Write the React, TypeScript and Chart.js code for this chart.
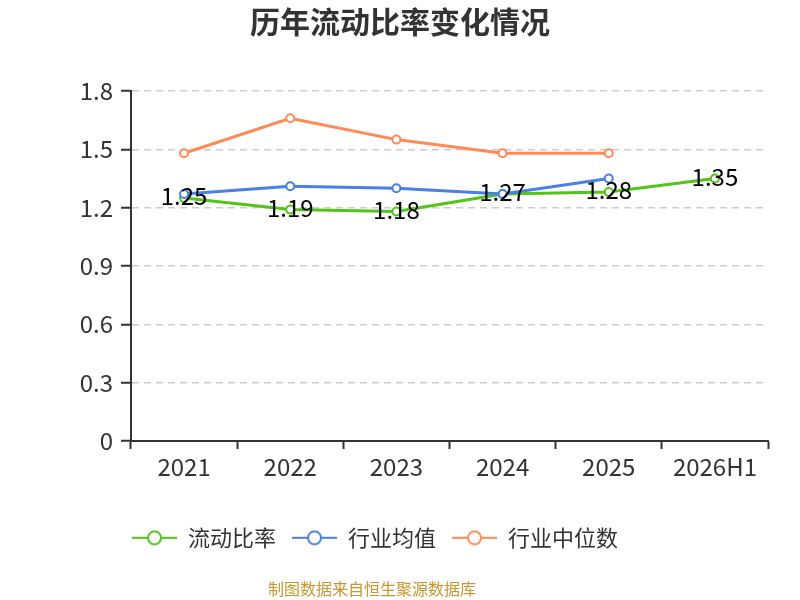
import React, { useEffect, useRef } from "react";
import { Chart, registerables } from "chart.js";

Chart.register(...registerables);

const categories = ["2021", "2022", "2023", "2024", "2025", "2026H1"];
const currentRatio = [1.25, 1.19, 1.18, 1.27, 1.28, 1.35];
const industryAvg = [1.27, 1.31, 1.3, 1.27, 1.35, null];
const industryMedian = [1.48, 1.66, 1.55, 1.48, 1.48, null];
const yTicks = [0, 0.3, 0.6, 0.9, 1.2, 1.5, 1.8];

const GREEN = "#52c41a";
const BLUE = "#4a7fe6";
const ORANGE = "#ff8a55";
const FONT = "'Noto Sans CJK SC', 'Noto Sans', sans-serif";

function legendIcon(color: string): HTMLCanvasElement {
  const c = document.createElement("canvas");
  c.width = 45;
  c.height = 16;
  const ctx = c.getContext("2d")!;
  ctx.strokeStyle = color;
  ctx.lineWidth = 2;
  ctx.beginPath();
  ctx.moveTo(0, 8);
  ctx.lineTo(45, 8);
  ctx.stroke();
  ctx.beginPath();
  ctx.arc(22.5, 8, 6.5, 0, Math.PI * 2);
  ctx.fillStyle = "#fff";
  ctx.fill();
  ctx.stroke();
  return c;
}

const dataLabelPlugin = {
  id: "dataLabels",
  afterDatasetsDraw(chart: any) {
    const ctx = chart.ctx;
    const meta = chart.getDatasetMeta(0);
    ctx.save();
    ctx.font = `24px ${FONT}`;
    ctx.fillStyle = "#000";
    ctx.textAlign = "center";
    ctx.textBaseline = "middle";
    meta.data.forEach((pt: any, i: number) => {
      const v = currentRatio[i];
      if (v == null) return;
      ctx.fillText(v.toFixed(2), pt.x, pt.y - 2);
    });
    ctx.restore();
  },
};

const shiftPlugin = {
  id: "shiftBottom",
  afterLayout(chart: any) {
    const dx = -25;
    if (chart.legend) {
      chart.legend.left += dx;
      chart.legend.right += dx;
    }
    const sub = chart.boxes.find((b: any) => b.options && b.options.text === "制图数据来自恒生聚源数据库");
    if (sub) {
      sub.left -= 28;
      sub.right -= 28;
    }
  },
};

export default function App() {
  const ref = useRef<HTMLCanvasElement>(null);
  useEffect(() => {
    document.body.style.margin = "0";
    const icons = [legendIcon(GREEN), legendIcon(BLUE), legendIcon(ORANGE)];
    const pointCommon = {
      pointRadius: 4,
      pointHoverRadius: 4,
      pointBorderWidth: 2,
      pointBackgroundColor: "#fff",
      borderWidth: 3,
      tension: 0,
      fill: false,
    };
    const chart = new Chart(ref.current!, {
      type: "line",
      data: {
        labels: categories,
        datasets: [
          { label: "流动比率", data: currentRatio, borderColor: GREEN, pointBorderColor: GREEN, order: 2, ...pointCommon },
          { label: "行业均值", data: industryAvg, borderColor: BLUE, pointBorderColor: BLUE, order: 1, ...pointCommon },
          { label: "行业中位数", data: industryMedian, borderColor: ORANGE, pointBorderColor: ORANGE, order: 0, ...pointCommon },
        ] as any,
      },
      options: {
        animation: false,
        responsive: false,
        maintainAspectRatio: false,
        layout: { padding: { left: 32, right: 32, top: 0, bottom: 1 } },
        plugins: {
          title: {
            display: true,
            text: "历年流动比率变化情况",
            color: "#333",
            font: { family: FONT, size: 30, weight: "bold" },
            padding: { top: 4, bottom: 51 },
          },
          subtitle: {
            display: true,
            position: "bottom",
            text: "制图数据来自恒生聚源数据库",
            color: "#c9952c",
            font: { family: FONT, size: 16 },
            padding: { top: 21, bottom: 0 },
          },
          legend: {
            position: "bottom",
            labels: {
              usePointStyle: true,
              pointStyleWidth: 45,
              padding: 16,
              color: "#333",
              font: { family: FONT, size: 22 },
              sort: (a: any, b: any) => a.datasetIndex - b.datasetIndex,
              generateLabels: (chart: any) =>
                chart.data.datasets.map((ds: any, i: number) => ({
                  text: ds.label,
                  pointStyle: icons[i],
                  fillStyle: ds.borderColor,
                  strokeStyle: ds.borderColor,
                  fontColor: "#333",
                  lineWidth: 0,
                  hidden: false,
                  datasetIndex: i,
                })),
            },
          },
          tooltip: { enabled: false },
        },
        scales: {
          x: {
            type: "category",
            offset: true,
            grid: {
              offset: true,
              drawOnChartArea: false,
              drawTicks: true,
              tickLength: 8,
              tickWidth: 2,
              tickColor: "#333",
              color: "#333",
            },
            border: { display: true, color: "#333", width: 2 },
            ticks: { color: "#333", font: { family: FONT, size: 24 }, padding: 3, maxRotation: 0 },
            afterFit: (s: any) => {
              s.height += 27;
            },
          },
          y: {
            min: 0,
            max: 1.8,
            afterBuildTicks: (s: any) => {
              s.ticks = yTicks.map((v) => ({ value: v }));
            },
            grid: {
              color: "#cccccc",
              lineWidth: 1.5,
              tickLength: 10,
              tickWidth: 2,
              tickColor: "#333",
            },
            border: { display: true, color: "#333", width: 2, dash: [7, 5] },
            ticks: {
              color: "#333",
              font: { family: FONT, size: 24 },
              padding: 8,
              callback: (v: any) => (v === 0 ? "0" : Number(v).toFixed(1)),
            },
            afterFit: (s: any) => {
              s.width = 99;
            },
          },
        },
      },
      plugins: [dataLabelPlugin, shiftPlugin],
    });
    return () => chart.destroy();
  }, []);
  return (
    <div style={{ position: "absolute", left: 0, top: 0, width: 800, height: 600 }}>
      <canvas ref={ref} width={800} height={600} style={{ width: 800, height: 600 }} />
    </div>
  );
}
